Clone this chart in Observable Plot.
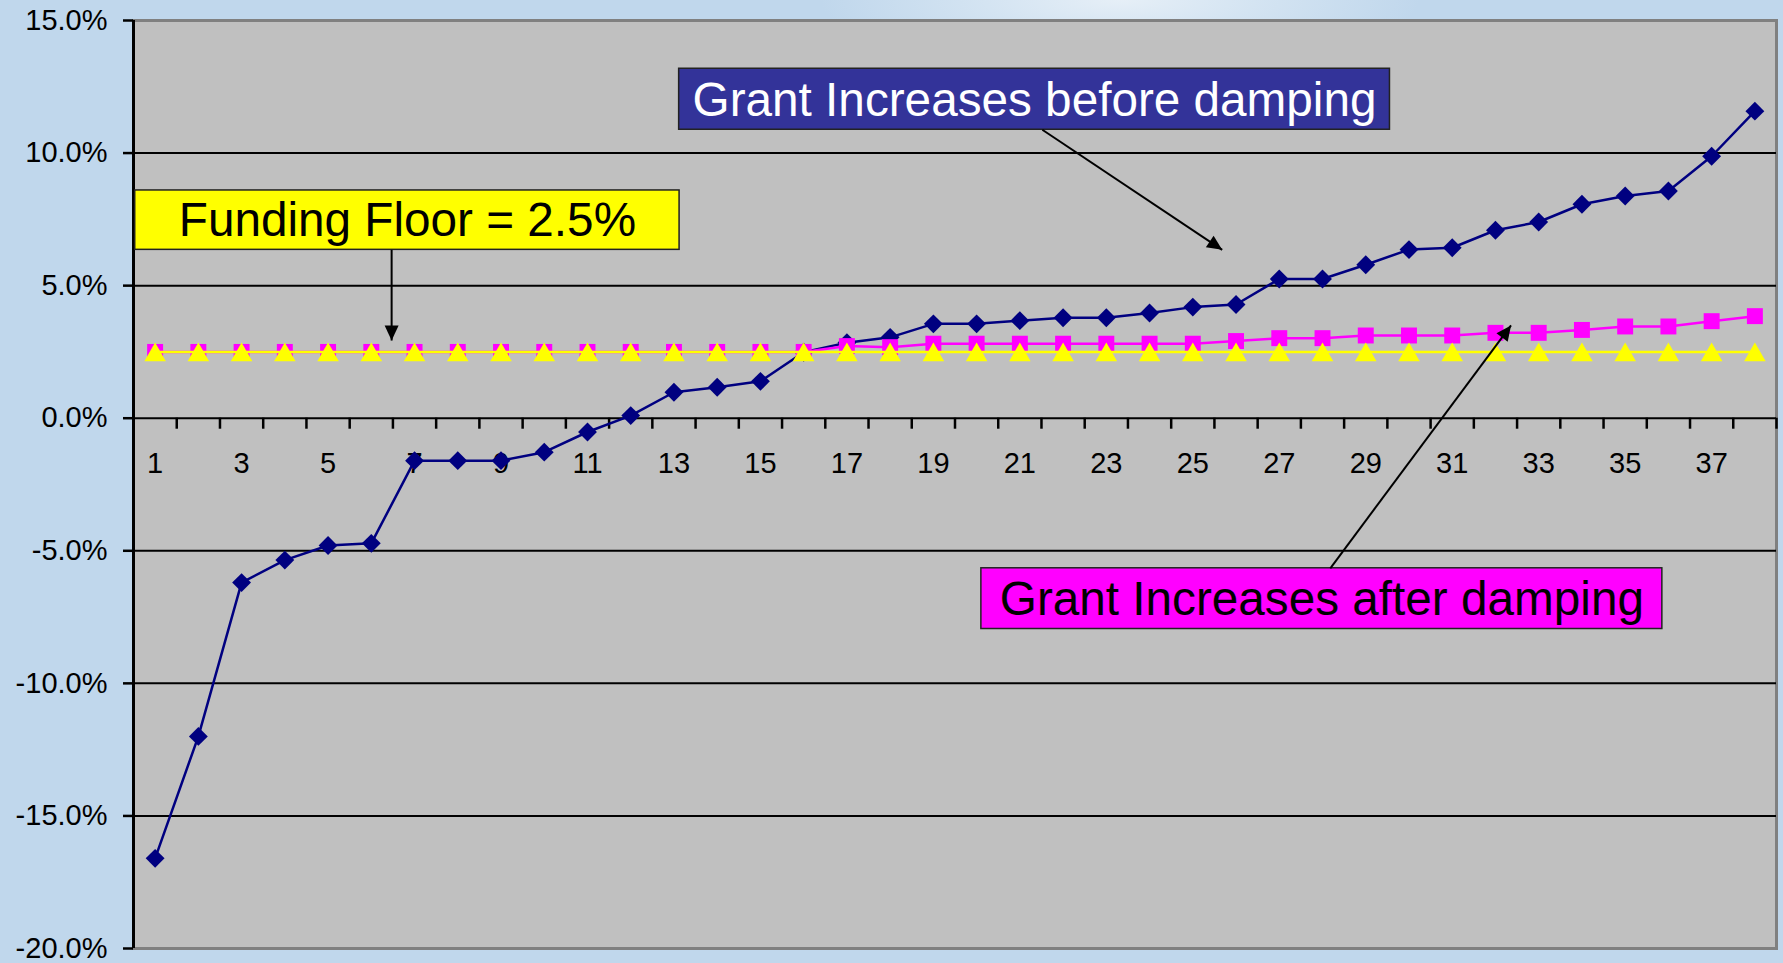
<!DOCTYPE html>
<html>
<head>
<meta charset="utf-8">
<script src="https://cdn.jsdelivr.net/npm/d3@7"></script>
<script src="https://cdn.jsdelivr.net/npm/@observablehq/plot@0.6"></script>
<style>
  html, body { margin: 0; padding: 0; width: 1783px; height: 963px; overflow: hidden; }
  body {
    background:
      radial-gradient(ellipse 300px 70px at 1120px 0px, #e6eff7 0%, #d4e4f2 45%, rgba(192,215,236,0) 100%),
      #c0d7ec;
  }
  #chart svg { display: block; }
</style>
</head>
<body>
<div id="chart"></div>
<script>
// ---- data ----
const categories = [1,2,3,4,5,6,7,8,9,10,11,12,13,14,15,16,17,18,19,20,21,22,23,24,25,26,27,28,29,30,31,32,33,34,35,36,37,38];
const beforeDamping = [-16.6, -12.0, -6.2, -5.35, -4.8, -4.72, -1.6, -1.6, -1.6, -1.28, -0.52, 0.1, 0.98, 1.17, 1.39, 2.49, 2.85, 3.05, 3.56, 3.56, 3.68, 3.79, 3.79, 3.97, 4.19, 4.29, 5.25, 5.25, 5.79, 6.36, 6.43, 7.09, 7.4, 8.07, 8.38, 8.57, 9.88, 11.58];
const afterDamping = [2.5, 2.5, 2.5, 2.5, 2.5, 2.5, 2.5, 2.5, 2.5, 2.5, 2.5, 2.5, 2.5, 2.5, 2.5, 2.5, 2.72, 2.68, 2.81, 2.81, 2.81, 2.81, 2.81, 2.81, 2.81, 2.91, 3.02, 3.02, 3.12, 3.12, 3.12, 3.22, 3.22, 3.33, 3.46, 3.46, 3.66, 3.85];
const fundingFloor = [2.5, 2.5, 2.5, 2.5, 2.5, 2.5, 2.5, 2.5, 2.5, 2.5, 2.5, 2.5, 2.5, 2.5, 2.5, 2.5, 2.5, 2.5, 2.5, 2.5, 2.5, 2.5, 2.5, 2.5, 2.5, 2.5, 2.5, 2.5, 2.5, 2.5, 2.5, 2.5, 2.5, 2.5, 2.5, 2.5, 2.5, 2.5];
const yTicks = [-20, -15, -10, -5, 0, 5, 10, 15];
const gridValues = [-15, -10, -5, 0, 5, 10];
const xLabels = [1, 3, 5, 7, 9, 11, 13, 15, 17, 19, 21, 23, 25, 27, 29, 31, 33, 35, 37];

// annotation boxes & arrows, in data units (category, percent)
const boxes = [
  {label: "Grant Increases before damping", x1: 13.12, x2: 29.56, y1: 13.18, y2: 10.88, fill: "#333399", color: "#ffffff"},
  {label: "Funding Floor = 2.5%", x1: 0.54, x2: 13.13, y1: 8.59, y2: 6.35, fill: "#ffff00", color: "#000000"},
  {label: "Grant Increases after damping", x1: 20.11, x2: 35.86, y1: -5.66, y2: -7.95, fill: "#ff00ff", color: "#000000"}
];
const arrows = [
  {x1: 21.52, y1: 10.88, x2: 25.68, y2: 6.35},
  {x1: 6.47, y1: 6.35, x2: 6.47, y2: 2.93},
  {x1: 28.18, y1: -5.66, x2: 32.36, y2: 3.5}
];

// ---- table ----
const rows = categories.map((c, i) => ({c, before: beforeDamping[i], after: afterDamping[i], floor: fundingFloor[i]}));
const tickBounds = categories.map(c => c + 0.5);
const xMin = categories[0] - 0.5, xMax = categories[categories.length - 1] + 0.5;

const font = "'Liberation Sans', Arial, Helvetica, sans-serif";

const boxMarks = boxes.flatMap(b => [
  Plot.rect([b], {x1: "x1", x2: "x2", y1: "y1", y2: "y2", fill: b.fill, stroke: "#222", strokeWidth: 1.5}),
  Plot.text([b], {x: d => (d.x1 + d.x2) / 2, y: d => (d.y1 + d.y2) / 2, text: "label", fill: b.color, fontSize: 47.7, dy: 1})
]);

const chart = Plot.plot({
  width: 1783,
  height: 963,
  marginLeft: 133,
  marginRight: 7,
  marginTop: 20,
  marginBottom: 15,
  x: {domain: [xMin, xMax], axis: null},
  y: {domain: [yTicks[0], yTicks[yTicks.length - 1]]},
  style: {background: "transparent", fontFamily: font, fontSize: "29px", color: "black", overflow: "visible"},
  marks: [
    Plot.frame({fill: "#c0c0c0", stroke: "#808080", strokeWidth: 3}),
    Plot.ruleY(gridValues, {stroke: "black", strokeWidth: 2}),
    Plot.ruleX(tickBounds, {x: d => d, y1: () => 0, y2: () => 0, insetBottom: -11, stroke: "black", strokeWidth: 2.5}),
    Plot.ruleX([xMin], {stroke: "black", strokeWidth: 3}),
    Plot.axisY({ticks: yTicks, tickFormat: d => d.toFixed(1) + "%", tickSize: 10, tickPadding: 16, strokeWidth: 2.5, fontSize: 29, label: null, anchor: "left"}),
    Plot.text(xLabels, {x: d => d, y: () => 0, dy: 46, text: d => String(d), fontSize: 29, fill: "black"}),
    // before damping
    Plot.line(rows, {x: "c", y: "before", stroke: "#000080", strokeWidth: 2.5}),
    Plot.dot(rows, {x: "c", y: "before", symbol: "diamond2", r: 8.5, fill: "#000080"}),
    // after damping
    Plot.line(rows, {x: "c", y: "after", stroke: "#ff00ff", strokeWidth: 2.5}),
    Plot.dot(rows, {x: "c", y: "after", symbol: "square", r: 9, fill: "#ff00ff"}),
    // funding floor
    Plot.line(rows, {x: "c", y: "floor", stroke: "#ffff00", strokeWidth: 2.5}),
    Plot.dot(rows, {x: "c", y: "floor", symbol: "triangle", r: 8, fill: "#ffff00", dy: 3}),
    // annotations
    ...boxMarks,
    Plot.link(arrows, {x1: "x1", y1: "y1", x2: "x2", y2: "y2", stroke: "black", strokeWidth: 2, markerEnd: "arrow"})
  ]
});

// filled arrowheads
chart.querySelectorAll("marker").forEach(m => {
  m.setAttribute("viewBox", "-16 -8 16 16");
  m.setAttribute("markerUnits", "userSpaceOnUse");
  m.setAttribute("markerWidth", "16");
  m.setAttribute("markerHeight", "16");
  m.setAttribute("fill", "black");
  m.setAttribute("stroke", "none");
  while (m.firstChild) m.removeChild(m.firstChild);
  const p = document.createElementNS("http://www.w3.org/2000/svg", "path");
  p.setAttribute("d", "M-15,-7L0,0L-15,7Z");
  m.appendChild(p);
});

document.getElementById("chart").appendChild(chart);
</script>
</body>
</html>
